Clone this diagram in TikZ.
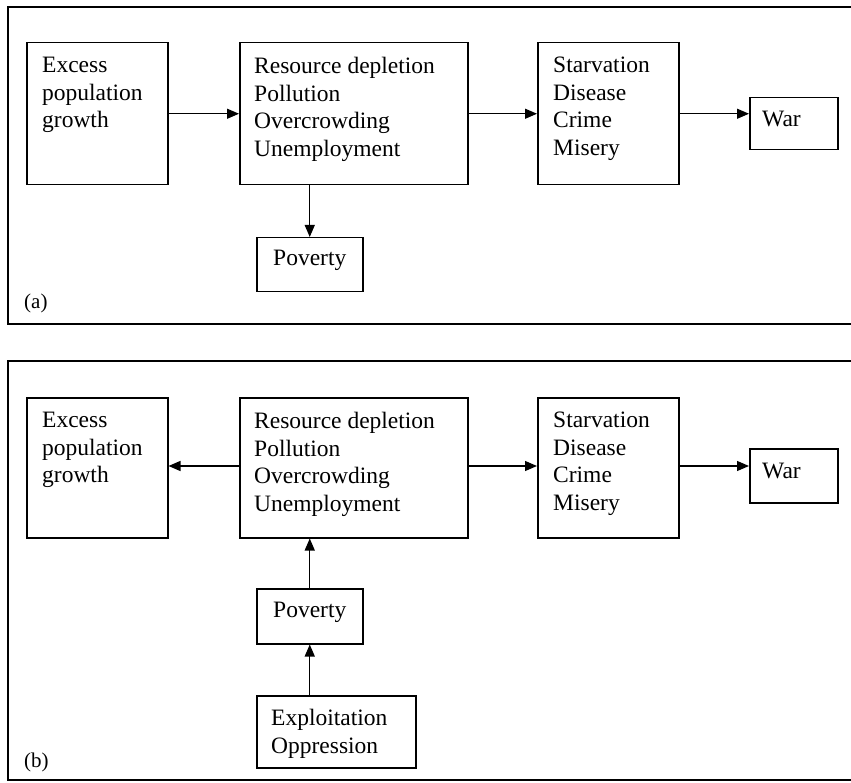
\documentclass[tikz,border=0pt]{standalone}
\usepackage{fontspec}
\setmainfont{Liberation Serif}
\usetikzlibrary{arrows.meta}
\begin{document}
\begin{tikzpicture}[x=1pt,y=-1pt,
  box/.style={draw, line width=1.5pt, inner sep=0pt, anchor=north west},
  frame/.style={draw, line width=1.6pt},
  txt/.style={inner sep=0pt, anchor=north west, align=left, font=\fontsize{23.5}{27.5}\selectfont},
  ctxt/.style={inner sep=0pt, font=\fontsize{23.5}{27.5}\selectfont},
  lbl/.style={inner sep=0pt, anchor=west, font=\fontsize{21}{23}\selectfont},
  arr/.style={line width=1.2pt, -{Triangle[length=12pt,width=10pt]}}]
\useasboundingbox (0,0) rectangle (851,783);
\clip (0,0) rectangle (851,783);
% frames
\draw[frame] (8,7) rectangle (860,324);
\draw[frame] (8,361) rectangle (860,780);
% ---------------- panel (a)
\node[box, minimum width=141pt, minimum height=142pt] (exA) at (26,42) {};
\node[txt] (exAt) at ([xshift=16pt,yshift=-15pt]exA.north west) {Excess\\population\\growth};
\node[box, minimum width=228pt, minimum height=142pt] (reA) at (239,42) {};
\node[txt] (reAt) at ([xshift=15pt,yshift=-15pt]reA.north west) {Resource depletion\\Pollution\\Overcrowding\\Unemployment};
\node[box, minimum width=141pt, minimum height=142pt] (svA) at (537,42) {};
\node[txt] (svAt) at ([xshift=16pt,yshift=-15pt]svA.north west) {Starvation\\Disease\\Crime\\Misery};
\node[box, minimum width=88pt, minimum height=52pt] (waA) at (749,97) {};
\node[ctxt, anchor=west] (waAt) at ([xshift=13pt,yshift=5pt]waA.west) {War};
\node[box, minimum width=106pt, minimum height=54pt] (poA) at (256,237) {};
\node[ctxt] (poAt) at ([yshift=4pt]poA.center) {Poverty};
\node[lbl] (labA) at (24,303) {(a)};
\draw[arr] (exA.east) -- (reA.west);
\draw[arr] (reA.east) -- (svA.west);
\draw[arr] (svA.east) -- (svA.east -| waA.west);
\draw[arr] (poA.north |- reA.south) -- (poA.north);
% ---------------- panel (b)
\node[box, minimum width=141pt, minimum height=140pt] (exB) at (26,397) {};
\node[txt] (exBt) at ([xshift=16pt,yshift=-15pt]exB.north west) {Excess\\population\\growth};
\node[box, minimum width=228pt, minimum height=140pt] (reB) at (239,397) {};
\node[txt] (reBt) at ([xshift=15pt,yshift=-15pt]reB.north west) {Resource depletion\\Pollution\\Overcrowding\\Unemployment};
\node[box, minimum width=141pt, minimum height=140pt] (svB) at (537,397) {};
\node[txt] (svBt) at ([xshift=16pt,yshift=-15pt]svB.north west) {Starvation\\Disease\\Crime\\Misery};
\node[box, minimum width=88pt, minimum height=54pt] (waB) at (749,448) {};
\node[ctxt, anchor=west] (waBt) at ([xshift=13pt,yshift=5pt]waB.west) {War};
\node[box, minimum width=106pt, minimum height=55pt] (poB) at (256,588) {};
\node[ctxt] (poBt) at ([yshift=4pt]poB.center) {Poverty};
\node[box, minimum width=159pt, minimum height=72pt] (exp) at (256,695) {};
\node[txt] (expt) at ([xshift=15pt,yshift=-14pt]exp.north west) {Exploitation\\Oppression};
\node[lbl] (labB) at (24,762) {(b)};
\draw[arr] (reB.west |- 0,466) -- (exB.east |- 0,466);
\draw[arr] (reB.east |- 0,466) -- (svB.west |- 0,466);
\draw[arr] (svB.east |- 0,466) -- (waB.west |- 0,466);
\draw[arr] (poB.north) -- (poB.north |- reB.south);
\draw[arr] (poB.south |- exp.north) -- (poB.south);
\end{tikzpicture}
\end{document}
